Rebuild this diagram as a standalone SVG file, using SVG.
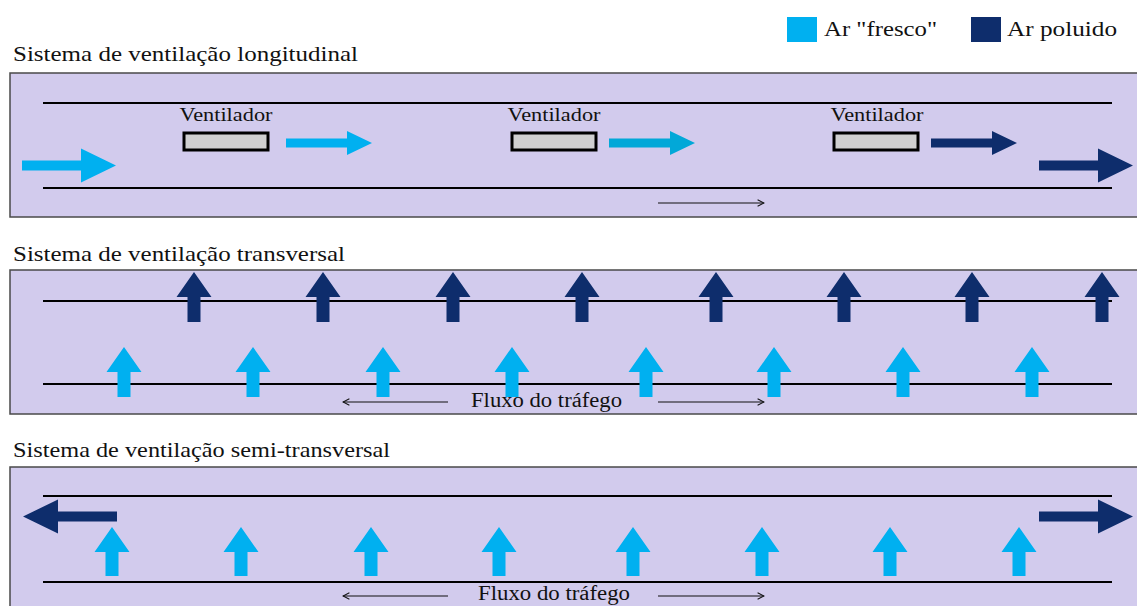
<svg xmlns="http://www.w3.org/2000/svg" xmlns:xlink="http://www.w3.org/1999/xlink" width="1137" height="606" viewBox="0 0 1137 606">
  <style>
    text { font-family: "Liberation Serif", "Times New Roman", serif; fill: #111; }
    .title { font-size: 22px; }
    .label { font-size: 19px; }
    .legend { font-size: 21px; }
    .flux { font-size: 20px; }
    .tunnel { fill: #D2CBED; stroke: #4a4a4a; stroke-width: 1.5; }
    .wall { stroke: #000; stroke-width: 2; }
    .fan { fill: #D0D0D0; stroke: #000; stroke-width: 3; }
    .fresh { fill: #00B0F0; }
    .fresh2 { fill: #02A8D8; }
    .dirty { fill: #0E2D6C; }
    .flow { stroke: #111; stroke-width: 1.2; fill: none; }
  </style>
  <defs>
    <!-- upward arrow, tip at origin -->
    <path id="up" d="M0,0 L17.5,25 L6.5,25 L6.5,50 L-6.5,50 L-6.5,25 L-17.5,25 Z"/>
    <path id="upShort" d="M0,0 L17.5,25 L6.5,25 L6.5,49 L-6.5,49 L-6.5,25 L-17.5,25 Z"/>
    <!-- large horizontal arrow, tail at origin, pointing right -->
    <path id="bigRight" d="M0,-5 L59,-5 L59,-17 L94,0 L59,17 L59,5 L0,5 Z"/>
    <!-- small horizontal arrow behind a fan -->
    <path id="smallRight" d="M0,-4.5 L61,-4.5 L61,-12 L86,0 L61,12 L61,4.5 L0,4.5 Z"/>
    <marker id="open" viewBox="0 0 10 10" refX="9" refY="5" markerWidth="8" markerHeight="8" markerUnits="userSpaceOnUse" orient="auto-start-reverse">
      <path d="M1,1 L9,5 L1,9" fill="none" stroke="#111" stroke-width="1.3"/>
    </marker>
  </defs>

  <!-- legend -->
  <g id="legend">
    <rect x="787" y="17" width="30" height="25" class="fresh"/>
    <text x="824" y="36" class="legend" textLength="113" lengthAdjust="spacingAndGlyphs">Ar "fresco"</text>
    <rect x="971" y="17" width="30" height="25" class="dirty"/>
    <text x="1007" y="36" class="legend" textLength="110" lengthAdjust="spacingAndGlyphs">Ar poluido</text>
  </g>

  <!-- longitudinal system -->
  <g id="longitudinal">
    <text x="13" y="61" class="title" textLength="345" lengthAdjust="spacingAndGlyphs">Sistema de ventilação longitudinal</text>
    <rect x="10" y="73" width="1140" height="144" class="tunnel"/>
    <line x1="43" y1="103" x2="1112" y2="103" class="wall"/>
    <line x1="43" y1="188" x2="1112" y2="188" class="wall"/>
    <g id="fan1">
      <text x="226" y="121" class="label" text-anchor="middle" textLength="93" lengthAdjust="spacingAndGlyphs">Ventilador</text>
      <rect x="184" y="133" width="84" height="17" class="fan"/>
    </g>
    <g id="fan2">
      <text x="554" y="121" class="label" text-anchor="middle" textLength="93" lengthAdjust="spacingAndGlyphs">Ventilador</text>
      <rect x="512" y="133" width="84" height="17" class="fan"/>
    </g>
    <g id="fan3">
      <text x="877" y="121" class="label" text-anchor="middle" textLength="93" lengthAdjust="spacingAndGlyphs">Ventilador</text>
      <rect x="834" y="133" width="84" height="17" class="fan"/>
    </g>
    <use xlink:href="#bigRight" x="22" y="165.5" class="fresh"/>
    <use xlink:href="#smallRight" x="286" y="143" class="fresh"/>
    <use xlink:href="#smallRight" x="609" y="143" class="fresh2"/>
    <use xlink:href="#smallRight" x="931" y="143" class="dirty"/>
    <use xlink:href="#bigRight" x="1039" y="165.5" class="dirty"/>
  </g>

  <!-- transverse system -->
  <g id="transversal">
    <text x="13" y="261" class="title" textLength="332" lengthAdjust="spacingAndGlyphs">Sistema de ventilação transversal</text>
    <rect x="10" y="270" width="1140" height="144" class="tunnel"/>
    <line x1="43" y1="301" x2="1112" y2="301" class="wall"/>
    <line x1="43" y1="384" x2="1112" y2="384" class="wall"/>
    <g class="dirty">
      <use xlink:href="#up" x="194" y="272"/>
      <use xlink:href="#up" x="323" y="272"/>
      <use xlink:href="#up" x="453" y="272"/>
      <use xlink:href="#up" x="582" y="272"/>
      <use xlink:href="#up" x="716" y="272"/>
      <use xlink:href="#up" x="844" y="272"/>
      <use xlink:href="#up" x="972" y="272"/>
      <use xlink:href="#up" x="1102" y="272"/>
    </g>
    <g class="fresh">
      <use xlink:href="#up" x="124" y="347"/>
      <use xlink:href="#up" x="253" y="347"/>
      <use xlink:href="#up" x="383" y="347"/>
      <use xlink:href="#up" x="512" y="347"/>
      <use xlink:href="#up" x="646" y="347"/>
      <use xlink:href="#up" x="774" y="347"/>
      <use xlink:href="#up" x="903" y="347"/>
      <use xlink:href="#up" x="1032" y="347"/>
    </g>
    <text x="471" y="407" class="flux" textLength="151" lengthAdjust="spacingAndGlyphs">Fluxo do tráfego</text>
  </g>

  <!-- semi-transverse system -->
  <g id="semi-transversal">
    <text x="13" y="457" class="title" textLength="377" lengthAdjust="spacingAndGlyphs">Sistema de ventilação semi-transversal</text>
    <rect x="10" y="467" width="1140" height="160" class="tunnel"/>
    <line x1="43" y1="496" x2="1112" y2="496" class="wall"/>
    <line x1="43" y1="582" x2="1112" y2="582" class="wall"/>
    <use xlink:href="#bigRight" transform="translate(117,516.5) scale(-1,1)" class="dirty"/>
    <use xlink:href="#bigRight" x="1039" y="516.5" class="dirty"/>
    <g class="fresh">
      <use xlink:href="#upShort" x="112" y="527"/>
      <use xlink:href="#upShort" x="241" y="527"/>
      <use xlink:href="#upShort" x="371" y="527"/>
      <use xlink:href="#upShort" x="499" y="527"/>
      <use xlink:href="#upShort" x="633" y="527"/>
      <use xlink:href="#upShort" x="762" y="527"/>
      <use xlink:href="#upShort" x="890" y="527"/>
      <use xlink:href="#upShort" x="1019" y="527"/>
    </g>
    <text x="478" y="600" class="flux" textLength="152" lengthAdjust="spacingAndGlyphs">Fluxo do tráfego</text>
  </g>

  <!-- traffic direction arrows -->
  <g id="connectors">
    <line x1="658" y1="203" x2="764" y2="203" class="flow" marker-end="url(#open)"/>
    <line x1="448" y1="402" x2="343" y2="402" class="flow" marker-end="url(#open)"/>
    <line x1="658" y1="402" x2="764" y2="402" class="flow" marker-end="url(#open)"/>
    <line x1="448" y1="596" x2="343" y2="596" class="flow" marker-end="url(#open)"/>
    <line x1="658" y1="596" x2="764" y2="596" class="flow" marker-end="url(#open)"/>
  </g>
</svg>
